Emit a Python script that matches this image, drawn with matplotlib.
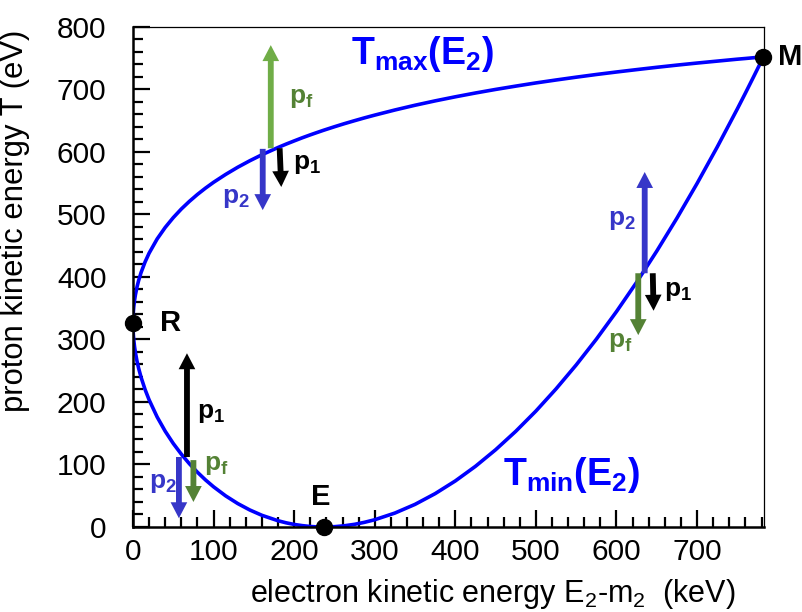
import matplotlib
matplotlib.use("Agg")
import matplotlib.pyplot as plt
from matplotlib.patches import FancyArrowPatch
from matplotlib.ticker import MultipleLocator

plt.rcParams["font.family"] = ["Liberation Sans", "DejaVu Sans"]
plt.rcParams["mathtext.fontset"] = "custom"
plt.rcParams["mathtext.rm"] = "Liberation Sans"
plt.rcParams["mathtext.it"] = "Liberation Sans:italic"
plt.rcParams["mathtext.bf"] = "Liberation Sans:bold"

# electron kinetic energy (keV) and proton kinetic energy limits (eV)
e_kin = [0, 0.1, 0.25, 0.5, 1, 2, 3, 5, 7, 10, 15, 20, 30, 40, 50, 60, 70,
         80, 90, 100, 115, 130, 145, 160, 180, 190, 200, 210, 220, 228,
         236.6, 250, 262, 275, 287, 300, 325, 350, 375, 400, 425, 450, 475,
         500, 525, 550, 575, 600, 625, 650, 675, 700, 725, 750, 760, 770,
         775, 782.3]
t_max = [326.1, 334.5, 339.4, 344.8, 352.5, 363.2, 371.3, 384.1, 394.3,
         407.0, 424.0, 438.1, 460.9, 479.3, 495.0, 508.8, 521.0, 532.1,
         542.2, 551.5, 564.1, 575.6, 586.0, 595.6, 607.2, 612.6, 617.7,
         622.7, 627.4, 631.0, 634.8, 640.4, 645.2, 650.1, 654.5, 659.0,
         667.2, 674.8, 681.8, 688.3, 694.4, 700.1, 705.4, 710.5, 715.2,
         719.7, 724.0, 728.0, 731.8, 735.5, 739.0, 742.3, 745.4, 748.5,
         749.6, 750.8, 751.4, 752.2]
t_min = [326.1, 317.7, 312.7, 307.1, 299.2, 287.9, 279.2, 265.3, 254.0,
         239.7, 220.0, 203.5, 176.0, 153.2, 133.6, 116.5, 101.2, 87.6,
         75.3, 64.3, 49.8, 37.5, 27.2, 18.7, 10.0, 6.7, 4.1, 2.2, 0.8, 0.2,
         0.0, 0.5, 1.9, 4.3, 7.4, 11.6, 22.3, 36.2, 53.4, 73.7, 97.1, 123.6,
         153.1, 185.5, 221.0, 259.3, 300.5, 344.7, 391.6, 441.5, 494.2,
         549.7, 608.0, 669.1, 694.3, 720.0, 733.0, 752.2]

# special points R, E, M
pt_names = ["R", "E", "M"]
pt_x = [0, 236.6, 782.3]
pt_y = [326.1, 0, 752.2]
pt_lab_x = [33, 233, 800]
pt_lab_y = [326, 48, 752]

# momentum arrows: x base, base T, x tip, tip T, colour key
arr_x0 = [171, 161, 182, 635, 627, 645, 67, 57, 75]
arr_x1 = [171, 161, 184, 635, 627, 646, 67, 57, 75]
arr_y0 = [606, 605, 606, 406, 406, 406, 112, 112, 107]
arr_y1 = [771, 507, 544, 568, 307, 346, 278, 14, 40]
arr_c = ["lgreen", "blue", "black", "blue", "green", "black",
         "black", "blue", "green"]

# arrow labels
lab_txt = ["f", "1", "2", "2", "1", "f", "1", "f", "2"]
lab_x = [193, 198, 111, 590, 659, 589, 80, 88, 20]
lab_y = [686, 580, 527, 491, 378, 296, 182, 99, 70]
lab_c = ["green", "black", "blue", "blue", "black", "green",
         "black", "green", "blue"]

COLORS = {"lgreen": "#70AD47", "green": "#548235", "blue": "#3636C8",
          "black": "black"}

fig = plt.figure(figsize=(8.03, 6.12), dpi=100)
ax = fig.add_axes([0.1656, 0.1389, 0.7858, 0.817])

ax.plot(e_kin, t_max, color="#0000FF", lw=2.6, solid_joinstyle="round")
ax.plot(e_kin, t_min, color="#0000FF", lw=2.6, solid_joinstyle="round")

for x0, x1, y0, y1, c in zip(arr_x0, arr_x1, arr_y0, arr_y1, arr_c):
    ax.add_patch(FancyArrowPatch(
        (x0, y0), (x1, y1), mutation_scale=10, color=COLORS[c], lw=0,
        arrowstyle="simple,head_length=1.15,head_width=1.2,tail_width=0.42",
        shrinkA=0, shrinkB=0, zorder=3))

for t, x, y, c in zip(lab_txt, lab_x, lab_y, lab_c):
    ax.text(x, y, r"$\mathbf{p_{%s}}$" % t, color=COLORS[c], fontsize=19,
            ha="left", va="center")

ax.plot(pt_x, pt_y, "o", color="black", ms=11.5, clip_on=False, zorder=5)
for n, x, y in zip(pt_names, pt_lab_x, pt_lab_y):
    ax.text(x, y, n, fontsize=21, fontweight="bold",
            ha="center" if n == "E" else "left", va="center", clip_on=False)

ax.text(270, 741, r"$\mathbf{T_{max}(E_2)}$", color="#0000FF", fontsize=27,
        ha="left", va="baseline")
ax.text(459, 67, r"$\mathbf{T_{min}(E_2)}$", color="#0000FF", fontsize=27,
        ha="left", va="baseline")

ax.set_xlim(0, 783)
ax.set_ylim(0, 800)
ax.xaxis.set_major_locator(MultipleLocator(100))
ax.xaxis.set_minor_locator(MultipleLocator(20))
ax.yaxis.set_major_locator(MultipleLocator(100))
ax.yaxis.set_minor_locator(MultipleLocator(20))
ax.tick_params(which="both", direction="in", top=False, right=False,
               width=1.6, labelsize=21.5)
ax.tick_params(which="major", length=12)
ax.tick_params(which="minor", length=7)
ax.tick_params(axis="y", pad=19)
ax.tick_params(axis="x", pad=8)
for s in ("left", "bottom"):
    ax.spines[s].set_linewidth(1.8)
for s in ("top", "right"):
    ax.spines[s].set_linewidth(0.9)

ax.set_xlabel(r"electron kinetic energy E$_2$-m$_2$  (keV)", fontsize=22)
ax.set_ylabel("proton kinetic energy T (eV)", fontsize=22.3)
ax.xaxis.set_label_coords(0.57, -0.10)
ax.yaxis.set_label_coords(-0.163, 0.612)

fig.savefig("out.png", dpi=100)
